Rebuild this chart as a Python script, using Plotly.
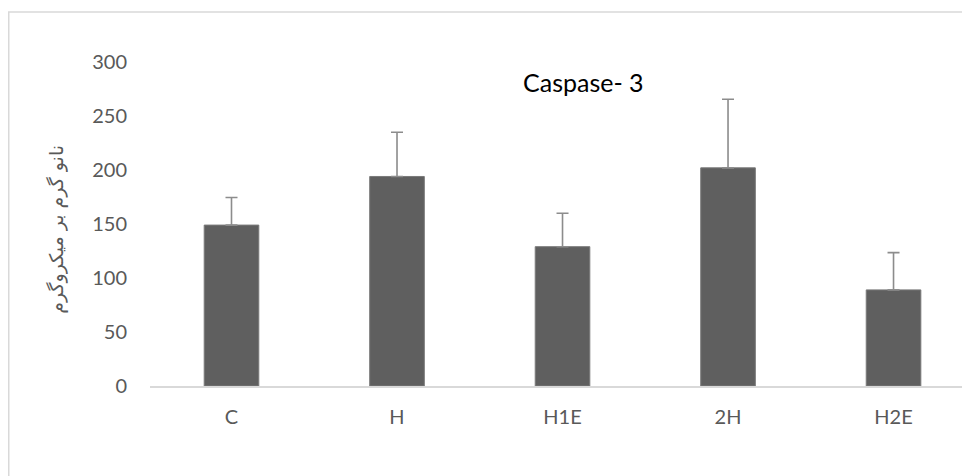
import plotly.graph_objects as go

categories = ["C", "H", "H1E", "2H", "H2E"]
means = [149, 194, 129, 202, 89]
errors_up = [25.5, 41, 31, 63.5, 34.5]
y_ticks = [0, 50, 100, 150, 200, 250, 300]
title_text = "Caspase- 3"
y_title = "نانو گرم بر میکروگرم"

# page body has an 8px margin; size the figure so it fits the 970x476 window
OFF = 8
W, H = 970 - OFF, 476 - OFF
L, R = 150 - OFF, 0
T = 62 - OFF
B = H - (386.5 - OFF)
plot_w = W - L - R
plot_h = H - T - B

fig = go.Figure()
fig.add_trace(go.Bar(
    x=categories, y=means,
    marker=dict(color="#5f5f5f", line=dict(color="#7a7a7a", width=1)),
    error_y=dict(type="data", array=errors_up, symmetric=False,
                 arrayminus=[0] * len(means),
                 color="#8c8c8c", thickness=1.6, width=6),
    width=0.33,
))

font_main = "Lato, 'Open Sans', sans-serif"

def px_x(x):
    return (x - OFF - L) / plot_w

def px_y(y):
    return 1 - (y - OFF - T) / plot_h

fig.update_layout(
    width=W, height=H,
    margin=dict(l=L, r=R, t=T, b=B, pad=0),
    paper_bgcolor="white", plot_bgcolor="white",
    showlegend=False,
    xaxis=dict(
        type="category", range=[-0.4924, 4.462],
        showgrid=False, zeroline=False,
        showline=True, linecolor="#d9d9d9", linewidth=1.5,
        ticks="", ticklabelstandoff=12,
        tickfont=dict(family=font_main, size=20, color="#595959"),
    ),
    yaxis=dict(
        range=[0, 300], tickvals=y_ticks,
        showgrid=False, zeroline=False, showline=False,
        ticks="", ticklabelstandoff=22,
        tickfont=dict(family=font_main, size=20, color="#595959"),
    ),
    annotations=[
        dict(text=title_text, xref="paper", yref="paper",
             x=px_x(583), y=px_y(82),
             xanchor="center", yanchor="middle", showarrow=False,
             font=dict(family=font_main, size=25, color="#000000")),
        dict(text=y_title, xref="paper", yref="paper",
             x=px_x(57), y=px_y(230),
             xanchor="center", yanchor="middle", showarrow=False,
             textangle=-90,
             font=dict(family="'DejaVu Sans', sans-serif", size=19, color="#595959")),
    ],
    shapes=[
        dict(type="rect", xref="paper", yref="paper",
             x0=px_x(8.75), x1=1.05,
             y0=-0.5, y1=px_y(12),
             line=dict(color="#d9d9d9", width=1.5), fillcolor="rgba(0,0,0,0)",
             layer="below"),
    ],
)

fig.write_html("out.html")
